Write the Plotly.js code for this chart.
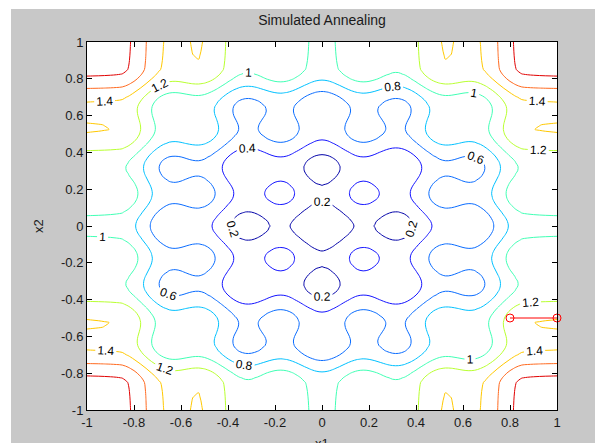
<!DOCTYPE html>
<html>
<head>
<meta charset="utf-8">
<script src="https://cdn.plot.ly/plotly-3.0.1.min.js"></script>
<style>html,body{margin:0;padding:0;background:#fff;}#chart{width:595px;height:443px;}</style>
</head>
<body>
<div id="chart"></div>
<script>
// sample positions along x1 and x2
const gridX1 = [-1,-0.975,-0.95,-0.925,-0.9,-0.875,-0.85,-0.825,-0.8,-0.775,-0.75,-0.725,-0.7,-0.675,-0.65,-0.625,-0.6,-0.575,-0.55,-0.525,-0.5,-0.475,-0.45,-0.425,-0.4,-0.375,-0.35,-0.325,-0.3,-0.275,-0.25,-0.225,-0.2,-0.175,-0.15,-0.125,-0.1,-0.075,-0.05,-0.025,0,0.025,0.05,0.075,0.1,0.125,0.15,0.175,0.2,0.225,0.25,0.275,0.3,0.325,0.35,0.375,0.4,0.425,0.45,0.475,0.5,0.525,0.55,0.575,0.6,0.625,0.65,0.675,0.7,0.725,0.75,0.775,0.8,0.825,0.85,0.875,0.9,0.925,0.95,0.975,1];
const gridX2 = [-1,-0.975,-0.95,-0.925,-0.9,-0.875,-0.85,-0.825,-0.8,-0.775,-0.75,-0.725,-0.7,-0.675,-0.65,-0.625,-0.6,-0.575,-0.55,-0.525,-0.5,-0.475,-0.45,-0.425,-0.4,-0.375,-0.35,-0.325,-0.3,-0.275,-0.25,-0.225,-0.2,-0.175,-0.15,-0.125,-0.1,-0.075,-0.05,-0.025,0,0.025,0.05,0.075,0.1,0.125,0.15,0.175,0.2,0.225,0.25,0.275,0.3,0.325,0.35,0.375,0.4,0.425,0.45,0.475,0.5,0.525,0.55,0.575,0.6,0.625,0.65,0.675,0.7,0.725,0.75,0.775,0.8,0.825,0.85,0.875,0.9,0.925,0.95,0.975,1];
// objective value read along the x1 axis (x2 = 0) and along the x2 axis (x1 = 0)
const alongX1 = [0.945,0.943,0.941,0.938,0.934,0.928,0.918,0.879,0.821,0.746,0.663,0.580,0.509,0.457,0.427,0.420,0.429,0.446,0.461,0.465,0.450,0.415,0.361,0.296,0.229,0.170,0.127,0.107,0.109,0.130,0.163,0.196,0.221,0.229,0.218,0.186,0.141,0.090,0.044,0.012,0.000,0.012,0.044,0.090,0.141,0.186,0.218,0.229,0.221,0.196,0.163,0.130,0.109,0.107,0.127,0.170,0.229,0.296,0.361,0.415,0.450,0.465,0.461,0.446,0.429,0.420,0.427,0.457,0.509,0.580,0.663,0.746,0.821,0.879,0.918,0.928,0.934,0.938,0.941,0.943,0.945];
const alongX2 = [0.945,0.943,0.941,0.938,0.934,0.928,0.918,0.879,0.821,0.746,0.663,0.580,0.509,0.457,0.427,0.420,0.429,0.446,0.461,0.465,0.450,0.415,0.361,0.296,0.229,0.170,0.127,0.107,0.109,0.130,0.163,0.196,0.221,0.229,0.218,0.186,0.141,0.090,0.044,0.012,0.000,0.012,0.044,0.090,0.141,0.186,0.218,0.229,0.221,0.196,0.163,0.130,0.109,0.107,0.127,0.170,0.229,0.296,0.361,0.415,0.450,0.465,0.461,0.446,0.429,0.420,0.427,0.457,0.509,0.580,0.663,0.746,0.821,0.879,0.918,0.928,0.934,0.938,0.941,0.943,0.945];
// contour levels and their colours
const levelStart = 0.2, levelEnd = 1.8, levelStep = 0.2;
const levelColors = ['#0000a8','#1414ff','#0a6cff','#00c0ff','#40ffb4','#b8ff30','#ffc800','#ff6a20','#e00000'];
// annealing path
const pathX1 = [0.8, 1];
const pathX2 = [-0.5, -0.5];
// ticks
const tickVals = [-1,-0.8,-0.6,-0.4,-0.2,0,0.2,0.4,0.6,0.8,1];
const tickText = ['-1','-0.8','-0.6','-0.4','-0.2','0','0.2','0.4','0.6','0.8','1'];

const z = alongX2.map(b => alongX1.map(a => +(a + b).toFixed(3)));
const colorscale = levelColors.map((c, i) => [i / (levelColors.length - 1), c]);

const FONT = 'Liberation Sans, Arial, Helvetica, sans-serif';
const W = 595, H = 443, ML = 87, MR = 38, MT = 42, MB = 33;
const pw = W - ML - MR, ph = H - MT - MB;
const px = v => (v - ML) / pw;
const py = v => (H - MB - v) / ph;

const traces = [
  {
    type: 'contour', x: gridX1, y: gridX2, z: z,
    autocontour: false,
    contours: {start: levelStart, end: levelEnd, size: levelStep, coloring: 'lines',
      showlabels: true, labelfont: {family: FONT, size: 12, color: '#000'}},
    line: {width: 1, smoothing: 1},
    colorscale: colorscale, showscale: false, hoverinfo: 'skip'
  },
  {
    type: 'scatter', mode: 'lines+markers', x: pathX1, y: pathX2,
    line: {color: '#ff0000', width: 1},
    marker: {symbol: 'circle-open', size: 8, color: '#ff0000', line: {width: 1}},
    cliponaxis: false, showlegend: false, hoverinfo: 'skip'
  }
];

const axisBase = {
  range: [-1, 1], tickmode: 'array', tickvals: tickVals, ticktext: tickText,
  ticks: 'inside', ticklen: 5, tickcolor: '#000', tickwidth: 1,
  showline: true, linecolor: '#000', linewidth: 1, mirror: 'ticks',
  showgrid: false, zeroline: false, fixedrange: true,
  tickfont: {family: FONT, size: 13, color: '#1a1a1a'}
};

const layout = {
  width: W, height: H,
  margin: {l: ML, r: MR, t: MT, b: MB, pad: 0},
  paper_bgcolor: '#c8c8c8', plot_bgcolor: '#ffffff',
  showlegend: false,
  title: {text: 'Simulated Annealing', font: {family: FONT, size: 14, color: '#1a1a1a'},
    x: 0.5, xref: 'paper', xanchor: 'center', y: 1 - 20 / H, yref: 'container', yanchor: 'middle'},
  xaxis: Object.assign({}, axisBase),
  yaxis: Object.assign({}, axisBase, {title: {text: 'x2', font: {family: FONT, size: 13, color: '#1a1a1a'}, standoff: 14}}),
  annotations: [
    {text: 'x1', xref: 'paper', yref: 'paper', x: 0.5, y: py(434), xanchor: 'center', yanchor: 'top',
      showarrow: false, font: {family: FONT, size: 13, color: '#1a1a1a'}}
  ],
  shapes: [
    {type: 'rect', xref: 'paper', yref: 'paper', layer: 'below', line: {width: 0}, fillcolor: '#ffffff',
      x0: px(0), x1: px(W), y0: py(9), y1: py(0)},
    {type: 'rect', xref: 'paper', yref: 'paper', layer: 'below', line: {width: 0}, fillcolor: '#ffffff',
      x0: px(0), x1: px(11), y0: py(H), y1: py(0)}
  ]
};

Plotly.newPlot('chart', traces, layout, {staticPlot: true, displayModeBar: false});
</script>
</body>
</html>
